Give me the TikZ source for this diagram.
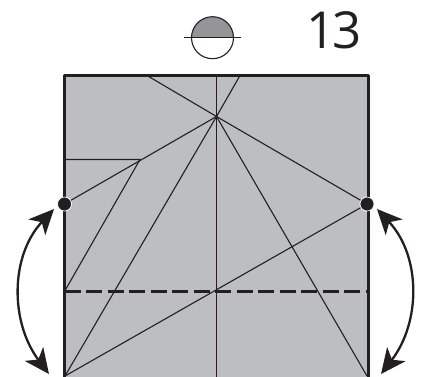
\documentclass[tikz,border=0pt]{standalone}
\usepackage{fontspec}
\setmainfont{Open Sans}
\usetikzlibrary{arrows.meta}
\definecolor{ink}{HTML}{231F20}
\definecolor{paper}{HTML}{BCBEC0}
\definecolor{halfgrey}{HTML}{939598}
\tikzset{
  crease/.style={ink,line width=1.1pt},
  edge/.style={ink,line width=2.5pt,line join=round},
  valley/.style={ink,line width=3.1pt,dash pattern=on 16pt off 5.5pt},
  swing/.style={ink,line width=2.3pt,{Stealth[length=25pt,width=23pt,inset=7pt]}-{Stealth[length=25pt,width=23pt,inset=7pt]}},
  pivot/.style={circle,fill=ink,draw=white,line width=0.7pt,inner sep=0pt,minimum size=14pt}
}
\begin{document}
\begin{tikzpicture}[x=1pt,y=-1pt]
\clip (0,0) rectangle (422,376);
% square
\coordinate (tl) at (64.5,75.5);
\coordinate (tr) at (368.5,75.5);
\coordinate (bl) at (64.5,380);
\coordinate (br) at (368.5,380);
\coordinate (apex) at (216.5,116.5);
\coordinate (midtop) at (216.5,75.5);
\coordinate (midbot) at (216.5,380);
\coordinate (dashl) at (64.5,291.5);
\coordinate (dashr) at (368.5,291.5);
\coordinate (flapl) at (64.5,159.5);
\coordinate (flapr) at (140,159.5);
\coordinate (topa) at (147,75.5);
\coordinate (topb) at (240,75.5);
\coordinate (corner) at (65,376);
\coordinate (cornerr) at (367,376);
\fill[paper] (tl) rectangle (br);
% creases
\draw[crease] (midtop) -- (midbot);
\draw[crease] (topa) -- (apex);
\draw[crease] (topb) -- (apex) -- (corner);
\draw[crease] (apex) -- (cornerr);
\draw[crease] (flapl) -- (flapr) -- (dashl);
\node[pivot] (dotl) at (64.5,204) {};
\node[pivot] (dotr) at (367,204) {};
\draw[crease] (apex) -- (dotl);
\draw[crease] (apex) -- (dotr);
\draw[crease] (corner) -- (dotr);
\draw[valley] (dashl) -- (dashr);
\draw[edge] (bl) -- (tl) -- (tr) -- (br);
\node[pivot] at (dotl) {};
\node[pivot] at (dotr) {};
% arrows
\coordinate (al) at (54,209);
\coordinate (bl2) at (49,374);
\coordinate (ar) at (377,209);
\coordinate (br2) at (381,374);
\draw[swing] (al) .. controls (10,256) and (10,322) .. (bl2);
\draw[swing] (ar) .. controls (421,256) and (421,322) .. (br2);
% symbol
\coordinate (sym) at (212.5,37.7);
\fill[halfgrey] (191.5,37.7) arc[start angle=180,end angle=0,radius=21pt,y=1pt] -- cycle;
\draw[ink,line width=1.1pt] (sym) circle (21pt);
\coordinate (syml) at (184,37.7);
\coordinate (symr) at (241,37.7);
\draw[ink,line width=1.3pt] (syml) -- (symr);
\node[ink,font=\fontsize{51}{51}\selectfont,inner sep=0pt] (stepnum) at (334,30) {1\kern-4pt 3};
\end{tikzpicture}
\end{document}
